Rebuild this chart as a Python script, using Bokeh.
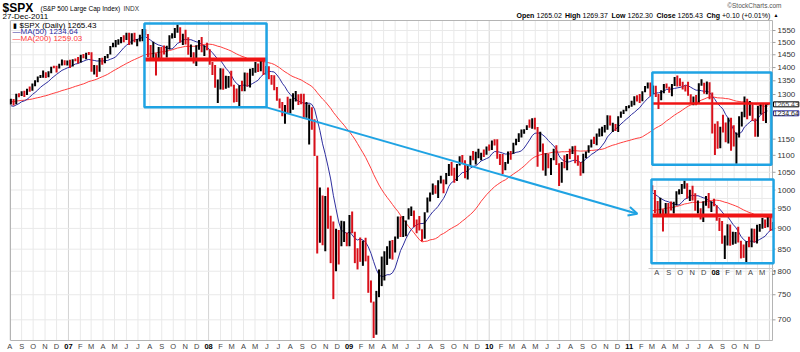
import math
import numpy as np
import pandas as pd
from bokeh.plotting import figure
from bokeh.models import (Range1d, Label, LabelSet, ColumnDataSource, Arrow, OpenHead)
from bokeh.core.properties import value
from bokeh.embed import file_html
from bokeh.resources import INLINE

# ---------------- data (weekly, read/estimated from the chart) ----------------
FIRST_FRIDAY = "2005-11-04"
LAST_SESSION = "2011-12-27"

# weekly closes (history before Aug-2006 only feeds the moving averages)
close_2005 = [1220.1, 1234.7, 1248.3, 1268.3, 1265.1, 1259.4, 1267.3, 1268.7, 1248.3]
close_2006 = [1285.5, 1287.6, 1261.5, 1283.7, 1264.0, 1266.9, 1287.2, 1289.4, 1287.2, 1281.4,
              1307.3, 1302.9, 1294.8, 1295.5, 1289.1, 1311.3, 1310.6, 1325.8, 1291.2, 1267.0,
              1280.2, 1288.2, 1252.3, 1251.5, 1244.5, 1270.2, 1265.5, 1236.2, 1240.3, 1278.6,
              1279.4, 1266.7, 1302.3, 1295.1, 1311.0, 1298.9, 1319.7, 1314.8, 1335.9, 1349.6,
              1365.6, 1368.6, 1377.3, 1364.3, 1380.9, 1401.2, 1400.9, 1396.7, 1409.8, 1427.1,
              1410.8, 1418.3]
close_2007 = [1409.7, 1430.7, 1430.5, 1422.2, 1448.4, 1438.1, 1455.5, 1451.2, 1387.2, 1402.8,
              1386.9, 1436.1, 1420.9, 1443.8, 1452.9, 1484.4, 1494.1, 1505.6, 1505.9, 1522.8,
              1515.7, 1536.3, 1507.7, 1532.9, 1502.6, 1503.4, 1530.4, 1552.5, 1534.1, 1458.9,
              1433.1, 1453.6, 1445.9, 1479.4, 1474.0, 1453.6, 1484.3, 1525.8, 1526.8, 1557.6,
              1561.8, 1500.6, 1535.3, 1509.7, 1453.7, 1458.7, 1440.7, 1481.1, 1504.7, 1467.9,
              1484.5, 1478.5]
close_2008 = [1411.6, 1401.0, 1325.2, 1330.6, 1395.4, 1331.3, 1349.0, 1353.1, 1330.6, 1293.4,
              1288.1, 1329.5, 1315.2, 1370.4, 1332.8, 1390.3, 1397.8, 1413.9, 1388.3, 1425.4,
              1375.9, 1400.4, 1360.7, 1360.0, 1317.9, 1278.4, 1262.9, 1239.5, 1260.7, 1257.8,
              1260.3, 1296.3, 1298.2, 1292.2, 1282.8, 1242.3, 1251.7, 1255.1, 1213.3, 1099.2,
              899.2, 940.6, 876.8, 968.8, 931.0, 873.3, 800.0, 896.2, 876.1, 879.7,
              887.9, 872.8]
close_2009 = [931.8, 890.4, 850.1, 832.0, 825.9, 868.6, 826.8, 770.1, 735.1, 683.4,
              756.6, 768.5, 815.9, 842.5, 856.6, 869.6, 866.2, 877.5, 929.2, 882.9,
              887.0, 919.1, 940.1, 946.2, 921.2, 918.9, 896.4, 879.1, 940.4, 979.3,
              987.5, 1010.5, 1004.1, 1026.1, 1028.9, 1016.4, 1042.7, 1068.3, 1044.4, 1025.2,
              1071.5, 1087.7, 1079.6, 1036.2, 1069.3, 1093.5, 1091.4, 1091.5, 1106.0, 1106.4,
              1102.5, 1126.5, 1115.1]
close_2010 = [1145.0, 1136.0, 1091.8, 1073.9, 1066.2, 1075.5, 1109.2, 1104.5, 1138.7, 1150.0,
              1159.9, 1166.6, 1178.1, 1194.4, 1192.1, 1217.3, 1186.7, 1110.9, 1135.7, 1087.7,
              1089.4, 1064.9, 1091.6, 1117.5, 1076.8, 1022.6, 1078.0, 1064.9, 1102.7, 1101.6,
              1121.6, 1079.3, 1071.7, 1064.6, 1104.5, 1109.6, 1125.6, 1148.7, 1146.2, 1165.2,
              1176.2, 1183.1, 1183.3, 1225.9, 1199.2, 1199.7, 1189.4, 1224.7, 1240.4, 1243.9,
              1256.8, 1257.6]
close_2011 = [1271.5, 1293.2, 1283.4, 1276.3, 1310.9, 1329.2, 1343.0, 1319.9, 1321.2, 1304.3,
              1279.2, 1313.8, 1332.4, 1328.2, 1319.7, 1337.4, 1363.6, 1340.2, 1337.8, 1333.3,
              1331.1, 1300.2, 1271.0, 1271.5, 1268.4, 1339.7, 1343.8, 1316.1, 1345.0, 1292.3,
              1199.4, 1178.8, 1123.5, 1176.8, 1174.0, 1154.2, 1216.0, 1136.4, 1131.4, 1155.5,
              1224.6, 1238.3, 1285.1, 1253.2, 1263.9, 1215.7, 1158.7, 1244.3, 1255.2, 1219.7,
              1265.3, 1265.43]

# weekly lows / highs of the charted span (from the week of 4-Aug-2006)
low_2006 = [1265, 1261, 1266, 1290, 1295, 1291, 1298, 1310, 1314, 1330, 1345, 1360, 1361, 1360,
            1363, 1378, 1397, 1381, 1396, 1408, 1409, 1408]
high_2006 = [1285, 1284, 1303, 1305, 1312, 1314, 1321, 1329, 1340, 1352, 1366, 1372, 1389, 1382,
             1386, 1403, 1407, 1407, 1415, 1431, 1428, 1427]
low_2007 = [1398, 1404, 1424, 1416, 1420, 1436, 1432, 1449, 1384, 1374, 1364, 1384, 1411, 1417,
            1436, 1451, 1480, 1480, 1491, 1497, 1501, 1510, 1489, 1492, 1501, 1484, 1504, 1505,
            1529, 1440, 1427, 1430, 1370, 1430, 1432, 1451, 1439, 1471, 1516, 1518, 1540, 1500,
            1489, 1492, 1450, 1439, 1416, 1406, 1470, 1460, 1445, 1468]
high_2007 = [1430, 1432, 1435, 1441, 1450, 1453, 1458, 1461, 1460, 1410, 1409, 1437, 1438, 1445,
             1453, 1485, 1499, 1510, 1513, 1523, 1530, 1540, 1540, 1538, 1540, 1514, 1532, 1556,
             1555, 1535, 1489, 1503, 1456, 1481, 1481, 1487, 1486, 1530, 1538, 1561, 1576, 1564,
             1536, 1553, 1522, 1492, 1460, 1488, 1510, 1523, 1488, 1499]
low_2008 = [1411, 1372, 1324, 1270, 1318, 1317, 1321, 1324, 1329, 1272, 1274, 1257, 1312, 1312,
            1329, 1325, 1369, 1380, 1383, 1386, 1372, 1373, 1356, 1335, 1315, 1278, 1252, 1225,
            1200, 1236, 1234, 1247, 1275, 1263, 1266, 1217, 1220, 1133, 1180, 1098, 840, 865,
            859, 845, 899, 818, 741, 800, 815, 857, 867, 857]
high_2008 = [1472, 1422, 1410, 1355, 1397, 1396, 1369, 1368, 1388, 1335, 1322, 1334, 1350, 1381,
             1380, 1395, 1398, 1422, 1416, 1426, 1429, 1406, 1405, 1372, 1371, 1327, 1286, 1274,
             1263, 1292, 1285, 1305, 1313, 1301, 1303, 1303, 1274, 1265, 1255, 1215, 1099, 1007,
             985, 984, 1007, 932, 917, 899, 896, 919, 918, 890]
low_2009 = [857, 888, 818, 804, 821, 812, 822, 754, 734, 666, 672, 745, 768, 780, 814, 828, 826,
            842, 875, 879, 879, 881, 922, 931, 903, 888, 895, 869, 875, 940, 969, 987, 990, 978,
            1018, 991, 1016, 1039, 1040, 1020, 1025, 1070, 1074, 1033, 1029, 1069, 1085, 1073,
            1091, 1085, 1095, 1102, 1114]
high_2009 = [934, 943, 892, 852, 878, 870, 877, 835, 780, 736, 758, 804, 833, 845, 857, 870, 872,
             880, 930, 930, 931, 920, 951, 956, 945, 922, 931, 898, 941, 980, 993, 1018, 1013,
             1027, 1040, 1029, 1048, 1074, 1080, 1063, 1074, 1097, 1101, 1085, 1072, 1099, 1113,
             1111, 1120, 1108, 1118, 1127, 1133]
low_2010 = [1116, 1130, 1090, 1071, 1045, 1056, 1075, 1087, 1105, 1131, 1141, 1155, 1167, 1179,
            1187, 1183, 1181, 1066, 1111, 1055, 1040, 1062, 1042, 1085, 1071, 1011, 1020, 1062,
            1056, 1089, 1104, 1076, 1069, 1040, 1047, 1091, 1108, 1124, 1135, 1131, 1158, 1159,
            1171, 1180, 1194, 1173, 1176, 1173, 1220, 1232, 1242, 1252]
high_2010 = [1146, 1150, 1150, 1104, 1104, 1080, 1112, 1113, 1139, 1151, 1169, 1181, 1182, 1195,
             1214, 1218, 1220, 1189, 1174, 1136, 1106, 1105, 1092, 1120, 1131, 1076, 1080, 1100,
             1104, 1120, 1128, 1129, 1100, 1080, 1105, 1112, 1131, 1149, 1158, 1168, 1184, 1190,
             1196, 1228, 1227, 1203, 1199, 1225, 1241, 1247, 1260, 1262]
low_2011 = [1257, 1262, 1275, 1270, 1276, 1308, 1322, 1294, 1302, 1291, 1249, 1280, 1305, 1322,
            1306, 1294, 1331, 1329, 1330, 1318, 1311, 1296, 1268, 1262, 1262, 1267, 1332, 1303,
            1301, 1283, 1168, 1101, 1120, 1122, 1171, 1140, 1136, 1114, 1127, 1075, 1155, 1191,
            1221, 1215, 1226, 1209, 1158, 1158, 1231, 1209, 1202, 1262]
high_2011 = [1278, 1294, 1297, 1302, 1312, 1331, 1344, 1344, 1333, 1332, 1302, 1315, 1338, 1340,
             1328, 1338, 1364, 1370, 1359, 1346, 1334, 1346, 1301, 1293, 1298, 1341, 1356, 1343,
             1347, 1345, 1307, 1200, 1208, 1190, 1230, 1204, 1220, 1220, 1195, 1171, 1225, 1240,
             1293, 1285, 1277, 1266, 1217, 1260, 1267, 1267, 1269, 1269]

MA_FAST_WEEKS = 10   # ~ 50 trading days
MA_SLOW_WEEKS = 40   # ~ 200 trading days

SYMBOL, NAME, EXCH, AS_OF = "$SPX", "(S&P 500 Large Cap Index)", "INDX", "27-Dec-2011"
LAST_OPEN, LAST_HIGH, LAST_LOW, LAST_CLOSE = "1265.02", "1269.37", "1262.30", "1265.43"
LAST_CHG = "+0.10 (+0.01%)"
LAST_MA50, LAST_MA200 = "1234.64", "1259.03"

PRICE_GRID = list(range(700, 1551, 50))
HIDDEN_TICKS = [1200, 1250]
MONTH_LETTERS = ["J", "F", "M", "A", "M", "J", "J", "A", "S", "O", "N", "D"]

# annotation boxes (dates, price low, price high) and support levels
BOX_2007 = ("2007-07-18", "2008-05-31", 1255.0, 1580.0)
BOX_2011 = ("2011-03-02", "2012-01-06", 1072.0, 1381.0)
LEVEL_2007 = 1431.0
LEVEL_2011 = 1268.0
ARROW_TIP = ("2011-01-22", 937.0)

# ---------------- layout ----------------
W, H = 800, 352
FRAME_L, FRAME_R, FRAME_T, FRAME_B = 10, 772, 20, 340   # price panel inside the canvas
X_START, X_END = "2006-08-03", "2012-01-09"
Y_LOW, Y_HIGH = 661.4, 1593.2
INSET_OFFSET_PX = (507, 156)
FONT = "Liberation Sans"
BLUE = "#1fa3e3"
UP, DOWN = "#000000", "#d8101a"
MA_FAST_COLOR, MA_SLOW_COLOR = "#2e2e9e", "#ff3c3c"
LEVEL_COLOR = "#f01414"
GRID_COLOR, YEAR_GRID_COLOR = "#e9e9e9", "#d4d4d4"
BAR_WIDTH = 2.0


def ms(d):
    return (pd.Timestamp(d) - pd.Timestamp("1970-01-01")) / pd.Timedelta(milliseconds=1)


X0, X1 = ms(X_START), ms(X_END)
LY0, LY1 = math.log(Y_LOW), math.log(Y_HIGH)


def xd(px):
    return X0 + (px - FRAME_L) / (FRAME_R - FRAME_L) * (X1 - X0)


def yd(py):
    return math.exp(LY1 - (py - FRAME_T) / (FRAME_B - FRAME_T) * (LY1 - LY0))


# ---------------- frame ----------------
closes = close_2005 + close_2006 + close_2007 + close_2008 + close_2009 + close_2010 + close_2011
lows = low_2006 + low_2007 + low_2008 + low_2009 + low_2010 + low_2011
highs = high_2006 + high_2007 + high_2008 + high_2009 + high_2010 + high_2011

dates = pd.Series(pd.date_range(FIRST_FRIDAY, periods=len(closes), freq="W-FRI"))
dates.iloc[-1] = pd.Timestamp(LAST_SESSION)
df = pd.DataFrame({"date": dates, "close": closes})
df["prev"] = df["close"].shift(1)
df["ma_fast"] = df["close"].rolling(MA_FAST_WEEKS).mean()
df["ma_slow"] = df["close"].rolling(MA_SLOW_WEEKS).mean()
bars = df.iloc[-len(lows):].copy()
bars["low"] = lows
bars["high"] = highs
bars["color"] = np.where(bars["close"] >= bars["prev"], UP, DOWN)
shown = df[df["date"] >= pd.Timestamp(X_START)]

p = figure(width=W, height=H, x_axis_type="datetime", y_axis_type="log",
           x_range=Range1d(xd(0), xd(W)), y_range=Range1d(yd(H), yd(0)),
           x_axis_location=None, y_axis_location=None,
           output_backend="svg", toolbar_location=None,
           min_border_left=0, min_border_right=0, min_border_top=0, min_border_bottom=0)
p.background_fill_color = "white"
p.border_fill_color = "white"
p.outline_line_color = None
p.grid.visible = False

# grid lines of the price panel
month_all = list(pd.date_range("2006-08-01", "2012-01-01", freq="MS"))
for sel, col in (([d for d in month_all if d.month != 1], GRID_COLOR),
                 ([d for d in month_all if d.month == 1], YEAR_GRID_COLOR)):
    p.segment(x0=sel, x1=sel, y0=[Y_LOW] * len(sel), y1=[Y_HIGH] * len(sel),
              line_color=col, line_width=1)
p.segment(x0=[X0] * len(PRICE_GRID), x1=[X1] * len(PRICE_GRID), y0=PRICE_GRID, y1=PRICE_GRID,
          line_color=GRID_COLOR, line_width=1)
p.quad(left=[X0], right=[X1], bottom=[Y_LOW], top=[Y_HIGH], fill_alpha=0,
       line_color="#b4b4b4", line_width=1)

# price scale on the right
axis_ticks = [t for t in PRICE_GRID if t not in HIDDEN_TICKS]
p.segment(x0=[X1] * len(axis_ticks), x1=[xd(FRAME_R + 3)] * len(axis_ticks),
          y0=axis_ticks, y1=axis_ticks, line_color="#a0a0a0", line_width=1)
p.add_layout(LabelSet(x="x", y="y", text="t",
                      source=ColumnDataSource(dict(x=[xd(FRAME_R + 5)] * len(axis_ticks),
                                                   y=axis_ticks,
                                                   t=[str(t) for t in axis_ticks])),
                      text_align="left", text_baseline="middle", text_font=value(FONT),
                      text_font_size=value("8px"), text_color="#333333"))

# ---------------- main series ----------------
src = ColumnDataSource(bars)
p.line("date", "ma_slow", source=ColumnDataSource(shown), color=MA_SLOW_COLOR, line_width=1)
p.line("date", "ma_fast", source=ColumnDataSource(shown), color=MA_FAST_COLOR, line_width=1)
p.segment(x0="date", y0="low", x1="date", y1="high", color="color", line_width=BAR_WIDTH,
          source=src)

# highlight boxes and support levels
for (b0, b1, lo, hi), lvl, lw in ((BOX_2007, LEVEL_2007, 4), (BOX_2011, LEVEL_2011, 2.5)):
    p.segment(x0=[ms(b0)], x1=[ms(b1)], y0=[lvl], y1=[lvl], line_color=LEVEL_COLOR, line_width=lw)
    p.quad(left=[ms(b0)], right=[ms(b1)], bottom=[lo], top=[hi], fill_alpha=0,
           line_color=BLUE, line_width=2.5)

p.add_layout(Arrow(end=OpenHead(size=9, line_color=BLUE, line_width=2),
                   x_start=ms(BOX_2007[1]), y_start=BOX_2007[2],
                   x_end=ms(ARROW_TIP[0]), y_end=ARROW_TIP[1],
                   line_color=BLUE, line_width=2))

# ---------------- inset: copy of the 2007-08 box ----------------
dx_ms = INSET_OFFSET_PX[0] / (FRAME_R - FRAME_L) * (X1 - X0)
ratio = math.exp(INSET_OFFSET_PX[1] / (FRAME_B - FRAME_T) * (LY1 - LY0))
p.extra_x_ranges = {"inset": Range1d(xd(0) - dx_ms, xd(W) - dx_ms)}
p.extra_y_ranges = {"inset": Range1d(yd(H) * ratio, yd(0) * ratio)}
IN = dict(x_range_name="inset", y_range_name="inset")

b0, b1, lo, hi = BOX_2007
p.quad(left=[ms(b0)], right=[ms(b1)], bottom=[lo], top=[hi], fill_color="white",
       line_color=None, **IN)
in_months = list(pd.date_range(b0, b1, freq="MS"))
p.segment(x0=in_months, x1=in_months, y0=[lo] * len(in_months), y1=[hi] * len(in_months),
          line_color=GRID_COLOR, line_width=1, **IN)
in_levels = [v for v in PRICE_GRID if lo < v < hi]
p.segment(x0=[ms(b0)] * len(in_levels), x1=[ms(b1)] * len(in_levels), y0=in_levels,
          y1=in_levels, line_color=GRID_COLOR, line_width=1, **IN)
mask = (df["date"] >= pd.Timestamp(b0)) & (df["date"] <= pd.Timestamp(b1))
win = ColumnDataSource(df[mask])
p.line("date", "ma_slow", source=win, color=MA_SLOW_COLOR, line_width=1, **IN)
p.line("date", "ma_fast", source=win, color=MA_FAST_COLOR, line_width=1, **IN)
bmask = (bars["date"] >= pd.Timestamp(b0)) & (bars["date"] <= pd.Timestamp(b1))
p.segment(x0="date", y0="low", x1="date", y1="high", color="color", line_width=BAR_WIDTH,
          source=ColumnDataSource(bars[bmask]), **IN)
p.segment(x0=[ms(b0)], x1=[ms(b1)], y0=[LEVEL_2007], y1=[LEVEL_2007],
          line_color=LEVEL_COLOR, line_width=4, **IN)
p.quad(left=[ms(b0)], right=[ms(b1)], bottom=[lo], top=[hi], fill_alpha=0,
       line_color=BLUE, line_width=2.5, **IN)
p.segment(x0=[xd(648)], x1=[xd(FRAME_R + 1)], y0=[yd(268)], y1=[yd(268)],
          line_color="#c8c8c8", line_width=1)


# ---------------- text ----------------
def month_text(d):
    return f"{d.year % 100:02d}" if d.month == 1 else MONTH_LETTERS[d.month - 1]


def add_month_labels(months, py, x_range_name="default"):
    norm = [d for d in months if d.month != 1]
    yrs = [d for d in months if d.month == 1]
    for sel, color, style in ((norm, "#444444", "normal"), (yrs, "#000000", "bold")):
        s = ColumnDataSource(dict(x=[ms(d) for d in sel], y=[yd(py)] * len(sel),
                                  t=[month_text(d) for d in sel]))
        p.add_layout(LabelSet(x="x", y="y", text="t", source=s, x_range_name=x_range_name,
                              text_align="center", text_baseline="middle",
                              text_font=value(FONT), text_font_size=value("7.5px"),
                              text_color=color, text_font_style=value(style)))


add_month_labels(list(pd.date_range("2006-08-01", "2011-12-01", freq="MS")), 346)
add_month_labels(list(pd.date_range("2007-08-01", "2008-06-01", freq="MS")), 272, "inset")


def lbl(px, py, text, size="8px", color="#000000", bold=False, align="left", **kw):
    p.add_layout(Label(x=xd(px), y=yd(py), text=text, text_font=FONT, text_font_size=size,
                       text_color=color, text_font_style="bold" if bold else "normal",
                       text_align=align, text_baseline="middle", **kw))


lbl(2, 7.5, SYMBOL, size="12px", bold=True)
lbl(40, 8, NAME, size="6.5px")
lbl(123, 8, EXCH, size="6.5px", color="#333333")
lbl(2, 15.5, AS_OF, size="8px")
lbl(781, 5, "\u00a9StockCharts.com", size="6.5px", color="#555555", align="right")

ohlc = [("Open", True, 516), (LAST_OPEN, False, 536), ("High", True, 564.5),
        (LAST_HIGH, False, 582), ("Low", True, 611), (LAST_LOW, False, 627),
        ("Close", True, 656), (LAST_CLOSE, False, 677), ("Chg", True, 706),
        (LAST_CHG, False, 721.5)]
for t, b, px in ohlc:
    lbl(px, 14.5, t, size="7px", bold=b)
lbl(773, 14.5, "\u25b2", size="5px")

# legend
lbl(12, 24.5, "\u25ae", size="7px")
lbl(19, 24.5, f"{SYMBOL} (Daily) {LAST_CLOSE}", size="8px")
lbl(12, 31, f"\u2014MA({MA_FAST_WEEKS * 5}) {LAST_MA50}", size="8px", color=MA_FAST_COLOR)
lbl(12, 37.5, f"\u2014MA({MA_SLOW_WEEKS * 5}) {LAST_MA200}", size="8px", color=MA_SLOW_COLOR)

# last value tags on the price scale
p.add_layout(Label(x=xd(FRAME_R + 1), y=float(LAST_CLOSE), text=LAST_CLOSE, text_font=FONT,
                   text_font_size="7px", text_baseline="middle",
                   border_line_color="#000000", background_fill_color="white"))
p.add_layout(Label(x=xd(FRAME_R + 1), y=float(LAST_MA50), text=LAST_MA50, text_font=FONT,
                   text_font_size="7px", text_baseline="middle", text_color="#222222",
                   border_line_color=MA_FAST_COLOR, background_fill_color="white"))

open("out.html", "w").write(file_html(p, INLINE))
